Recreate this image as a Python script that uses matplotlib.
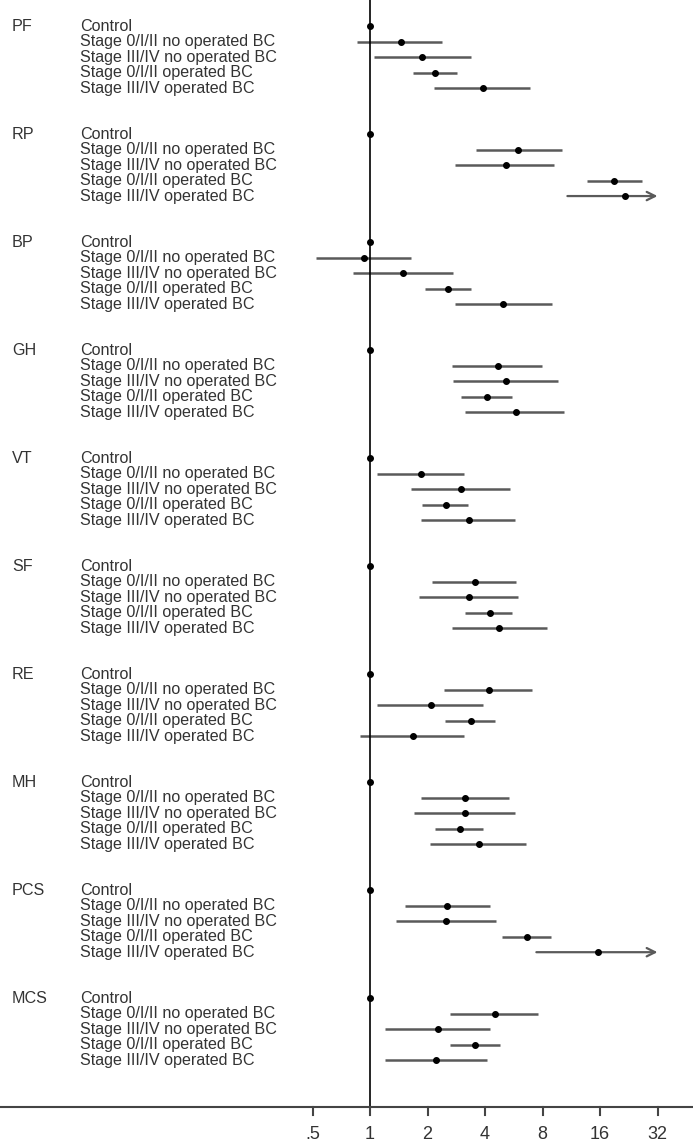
import numpy as np
import matplotlib
matplotlib.use("Agg")
import matplotlib.pyplot as plt

plt.rcParams['font.family'] = ['Liberation Sans', 'DejaVu Sans']

# domains and the five comparison rows inside each of them
domains = ["PF", "RP", "BP", "GH", "VT", "SF", "RE", "MH", "PCS", "MCS"]
groups = ["Control",
          "Stage 0/I/II no operated BC",
          "Stage III/IV no operated BC",
          "Stage 0/I/II operated BC",
          "Stage III/IV operated BC"]

# odds ratios (point), lower and upper CI; inf = arrow past 32
est = [
    [1, 1.45, 1.88, 2.19, 3.89],
    [1, 5.97, 5.15, 19.0, 21.7],
    [1, 0.93, 1.49, 2.57, 4.99],
    [1, 4.68, 5.17, 4.08, 5.81],
    [1, 1.85, 2.98, 2.49, 3.31],
    [1, 3.55, 3.31, 4.23, 4.75],
    [1, 4.18, 2.08, 3.37, 1.68],
    [1, 3.16, 3.16, 2.95, 3.72],
    [1, 2.54, 2.49, 6.61, 15.6],
    [1, 4.53, 2.26, 3.53, 2.22],
]
lo = [
    [1, 0.85, 1.05, 1.67, 2.17],
    [1, 3.58, 2.79, 13.6, 10.8],
    [1, 0.52, 0.81, 1.93, 2.79],
    [1, 2.70, 2.73, 2.98, 3.13],
    [1, 1.09, 1.64, 1.87, 1.85],
    [1, 2.11, 1.81, 3.14, 2.70],
    [1, 2.45, 1.09, 2.48, 0.89],
    [1, 1.85, 1.70, 2.18, 2.07],
    [1, 1.52, 1.37, 4.91, 7.43],
    [1, 2.62, 1.20, 2.62, 1.20],
]
hi = [
    [1, 2.39, 3.38, 2.87, 6.88],
    [1, 10.08, 9.22, 26.5, np.inf],
    [1, 1.63, 2.73, 3.38, 8.97],
    [1, 7.98, 9.61, 5.54, 10.4],
    [1, 3.11, 5.39, 3.27, 5.76],
    [1, 5.81, 5.93, 5.52, 8.41],
    [1, 7.02, 3.92, 4.49, 3.11],
    [1, 5.36, 5.74, 3.92, 6.58],
    [1, 4.27, 4.57, 8.83, np.inf],
    [1, 7.61, 4.27, 4.79, 4.08],
]
tick_vals = [0.5, 1, 2, 4, 8, 16, 32]
tick_labels = [".5", "1", "2", "4", "8", "16", "32"]

rows_per_domain = 7   # 5 rows + 2 blank
x_clip = 32
fs = 11.6
txt_col = "#333333"
ci_col = "#5a5a5a"

fig = plt.figure(figsize=(6.93, 11.42), dpi=100)
ax = fig.add_axes([0, 0, 1, 1])
ax.set_xscale("log", base=2)
ax.set_xlim(2 ** (-370 / 57.5), 2 ** (323 / 57.5))
ax.set_ylim(72.3, -1.705)
ax.axis("off")

lab_tr = ax.get_yaxis_transform()

for d, dom in enumerate(domains):
    y0 = d * rows_per_domain
    ax.text(12 / 693, y0, dom, transform=lab_tr, ha="left", va="center",
            fontsize=fs, color=txt_col)
    for g, grp in enumerate(groups):
        y = y0 + g
        ax.text(80 / 693, y, grp, transform=lab_tr, ha="left", va="center",
                fontsize=fs, color=txt_col)
        if g > 0:
            if np.isinf(hi[d][g]):
                ax.annotate("", xy=(x_clip, y), xytext=(lo[d][g], y),
                            arrowprops=dict(arrowstyle="->,head_length=0.6,head_width=0.3",
                                            color=ci_col, lw=1.6,
                                            shrinkA=0, shrinkB=0))
            else:
                ax.plot([lo[d][g], hi[d][g]], [y, y], color=ci_col, lw=1.8,
                        solid_capstyle="butt")
        ax.plot(est[d][g], y, "o", color="black", ms=4, zorder=3)

# reference line at 1 and the bottom axis
axis_y = 70
ax.plot([1, 1], [-1.705, axis_y + 0.5], color="black", lw=1.2)
ax.axhline(axis_y, color="#444444", lw=1.5)
for v, s in zip(tick_vals, tick_labels):
    ax.plot([v, v], [axis_y, axis_y + 0.58], color="#444444", lw=1.5)
    ax.text(v, 71.8, s, ha="center", va="center", fontsize=13, color=txt_col)

fig.savefig("out.png", dpi=100)
